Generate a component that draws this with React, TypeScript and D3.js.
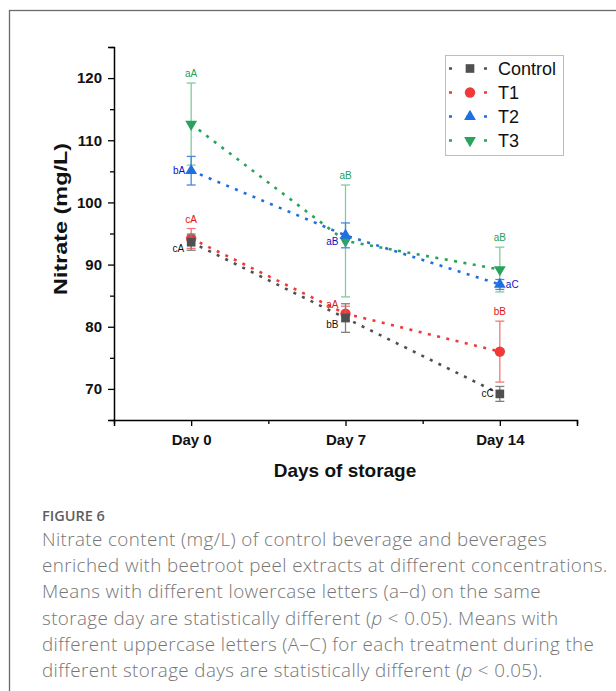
import React, { useEffect, useRef } from 'react';
import * as d3 from 'd3';

// Days and series
const days = ['Day 0', 'Day 7', 'Day 14'];

const controlMean = [93.6, 81.4, 69.2];
const controlErr = [1.3, 2.3, 1.2];
const t1Mean = [94.2, 82.1, 76.0];
const t1Err = [1.6, 1.2, 4.9];
const t2Mean = [105.1, 94.7, 86.8];
const t2Err = [2.3, 2.0, 0.8];
const t3Mean = [112.6, 93.8, 89.2];
const t3Err = [6.6, 9.0, 3.6];

// significance letters
const controlLetters = ['cA', 'bB', 'cC'];
const t1Letters = ['cA', 'aA', 'bB'];
const t2Letters = ['bA', 'aB', 'aC'];
const t3Letters = ['aA', 'aB', 'aB'];

// where each letter sits relative to its point
const controlPlace = ['lowerLeft', 'lowerLeft', 'left'];
const t1Place = ['above', 'upperLeft', 'above'];
const t2Place = ['left', 'lowerLeft', 'right'];
const t3Place = ['above', 'above', 'above'];

const yTicks = [70, 80, 90, 100, 110, 120];
const yMinor = [65, 75, 85, 95, 105, 115, 125];

const captionTitle = 'FIGURE 6';
const captionLines = [
  'Nitrate content (mg/L) of control beverage and beverages',
  'enriched with beetroot peel extracts at different concentrations.',
  'Means with different lowercase letters (a\u2013d) on the same',
  'storage day are statistically different (|p| < 0.05). Means with',
  'different uppercase letters (A\u2013C) for each treatment during the',
  'different storage days are statistically different (|p| < 0.05).',
];

type Series = {
  name: string;
  mean: number[];
  err: number[];
  letters: string[];
  place: string[];
  line: string;
  bar: string;
  label: string;
  symbol: d3.SymbolType;
  size: number;
  flip?: boolean;
};

const series: Series[] = [
  { name: 'Control', mean: controlMean, err: controlErr, letters: controlLetters, place: controlPlace,
    line: '#505050', bar: '#808080', label: '#111111', symbol: d3.symbolSquare, size: 75 },
  { name: 'T1', mean: t1Mean, err: t1Err, letters: t1Letters, place: t1Place,
    line: '#f03a3a', bar: '#f07878', label: '#e01515', symbol: d3.symbolCircle, size: 85 },
  { name: 'T2', mean: t2Mean, err: t2Err, letters: t2Letters, place: t2Place,
    line: '#1f6fe0', bar: '#4a86e0', label: '#1010c8', symbol: d3.symbolTriangle, size: 60 },
  { name: 'T3', mean: t3Mean, err: t3Err, letters: t3Letters, place: t3Place,
    line: '#28a35c', bar: '#80cc9e', label: '#22a05a', symbol: d3.symbolTriangle, size: 60, flip: true },
];

const drawOrder = [3, 2, 1, 0];

export default function App() {
  const svgRef = useRef<SVGSVGElement>(null);

  useEffect(() => {
    if (!svgRef.current) return;
    const svg = d3.select(svgRef.current);
    svg.selectAll('*').remove();

    const font = 'Arial, "Liberation Sans", sans-serif';

    // figure frame
    svg.append('rect')
      .attr('x', 9.5).attr('y', 10.5)
      .attr('width', 700).attr('height', 800)
      .attr('fill', 'none')
      .attr('stroke', '#6a6a6a')
      .attr('stroke-width', 1.3);

    const x = d3.scaleLinear().domain([-0.5, 2.5]).range([114, 577]);
    const y = d3.scaleLinear().domain([65, 125]).range([420, 47]);

    // Y axis
    const yAxis = svg.append('g')
      .attr('transform', `translate(${x(-0.5)},0)`)
      .call(d3.axisLeft(y).tickValues(yTicks).tickSize(6).tickPadding(6).tickFormat(d3.format('d')));
    svg.append('g')
      .attr('transform', `translate(${x(-0.5)},0)`)
      .call(d3.axisLeft(y).tickValues(yMinor).tickSize(4).tickFormat(() => ''))
      .select('.domain').remove();

    // X axis
    const xAxis = svg.append('g')
      .attr('transform', `translate(0,${y(65)})`)
      .call(d3.axisBottom(x).tickValues([0, 1, 2]).tickSize(6).tickPadding(8).tickFormat((d) => days[d as number]));
    svg.append('g')
      .attr('transform', `translate(0,${y(65)})`)
      .call(d3.axisBottom(x).tickValues([-0.5, 0.5, 1.5, 2.5]).tickSize(4).tickFormat(() => ''))
      .select('.domain').remove();

    svg.selectAll('.domain').attr('stroke', '#000').attr('stroke-width', 1.5);
    svg.selectAll('.tick line').attr('stroke', '#000').attr('stroke-width', 1.3);
    [yAxis, xAxis].forEach((a) =>
      a.selectAll('text')
        .attr('fill', '#111')
        .attr('font-family', font)
        .attr('font-weight', 'bold')
        .attr('font-size', 15));

    // axis titles
    svg.append('text')
      .attr('transform', `translate(67,${(143 + 295) / 2}) rotate(-90)`)
      .attr('text-anchor', 'middle')
      .attr('font-family', font)
      .attr('font-weight', 'bold')
      .attr('font-size', 18)
      .attr('textLength', 152)
      .attr('lengthAdjust', 'spacingAndGlyphs')
      .attr('fill', '#111')
      .text('Nitrate (mg/L)');

    svg.append('text')
      .attr('x', (x(-0.5) + x(2.5)) / 2 - 0.5)
      .attr('y', 477)
      .attr('text-anchor', 'middle')
      .attr('font-family', font)
      .attr('font-weight', 'bold')
      .attr('font-size', 19)
      .attr('fill', '#111')
      .text('Days of storage');

    const idx = d3.range(days.length);

    // dotted connecting lines
    const lineGen = d3.line<number>().x((i) => x(i));
    drawOrder.forEach((k) => {
      const s = series[k];
      svg.append('path')
        .attr('d', lineGen.y((i) => y(s.mean[i]))(idx))
        .attr('fill', 'none')
        .attr('stroke', s.line)
        .attr('stroke-width', 2.6)
        .attr('stroke-dasharray', '3 6.5');
    });

    // error bars and markers
    drawOrder.forEach((k) => {
      const s = series[k];
      const g = svg.append('g');
      idx.forEach((i) => {
        const cx = x(i);
        const top = y(s.mean[i] + s.err[i]);
        const bot = y(s.mean[i] - s.err[i]);
        g.append('line').attr('x1', cx).attr('x2', cx).attr('y1', top).attr('y2', bot)
          .attr('stroke', s.bar).attr('stroke-width', 1.3);
        [top, bot].forEach((yy) =>
          g.append('line').attr('x1', cx - 4.5).attr('x2', cx + 4.5).attr('y1', yy).attr('y2', yy)
            .attr('stroke', s.bar).attr('stroke-width', 1.3));
      });
      const sym = d3.symbol().type(s.symbol).size(s.size);
      g.selectAll('path.m')
        .data(idx)
        .join('path')
        .attr('class', 'm')
        .attr('d', sym() as string)
        .attr('transform', (i) => `translate(${x(i)},${y(s.mean[i])})${s.flip ? ' rotate(180)' : ''}`)
        .attr('fill', s.line);
    });

    // letters
    series.forEach((s) => {
      idx.forEach((i) => {
        const cx = x(i);
        const cy = y(s.mean[i]);
        const p = s.place[i];
        let tx = cx;
        let ty = cy + 3.5;
        let anchor = 'middle';
        if (p === 'above') { ty = y(s.mean[i] + s.err[i]) - 6; }
        else if (p === 'left') { tx = cx - 6; anchor = 'end'; }
        else if (p === 'right') { tx = cx + 6; anchor = 'start'; }
        else if (p === 'lowerLeft') { tx = cx - 7; ty = cy + 10; anchor = 'end'; }
        else if (p === 'upperLeft') { tx = cx - 7; ty = cy - 5.5; anchor = 'end'; }
        svg.append('text')
          .attr('x', tx).attr('y', ty)
          .attr('text-anchor', anchor)
          .attr('font-family', font)
          .attr('font-size', 10)
          .attr('fill', s.label)
          .text(s.letters[i]);
      });
    });

    // legend
    const lg = svg.append('g');
    lg.append('rect')
      .attr('x', 445.5).attr('y', 55.5).attr('width', 118).attr('height', 100)
      .attr('fill', '#fff').attr('stroke', '#bdbdbd').attr('stroke-width', 1);
    series.forEach((s, k) => {
      const ly = 68.5 + k * 24;
      lg.append('line')
        .attr('x1', 449).attr('x2', 491).attr('y1', ly).attr('y2', ly)
        .attr('stroke', s.line).attr('stroke-width', 2.6)
        .attr('stroke-dasharray', '3 14.5');
      lg.append('path')
        .attr('d', d3.symbol().type(s.symbol).size(s.size)() as string)
        .attr('transform', `translate(470,${ly})${s.flip ? ' rotate(180)' : ''}`)
        .attr('fill', s.line);
      lg.append('text')
        .attr('x', 498).attr('y', ly + 6.5)
        .attr('font-family', font)
        .attr('font-size', 18)
        .attr('fill', '#111')
        .text(s.name);
    });

    // caption
    svg.append('text')
      .attr('x', 42).attr('y', 521)
      .attr('font-family', '"Open Sans", sans-serif')
      .attr('font-weight', 600)
      .attr('font-size', 14.5)
      .attr('fill', '#5e5e5e')
      .text(captionTitle);

    captionLines.forEach((line, k) => {
      const t = svg.append('text')
        .attr('x', 42).attr('y', 546 + k * 26.2)
        .attr('font-family', '"Open Sans", sans-serif')
        .attr('font-weight', 300)
        .attr('font-size', 18.8)
        .attr('letter-spacing', 0.4)
        .attr('fill', '#757575');
      line.split('|').forEach((part, j) => {
        t.append('tspan')
          .attr('font-style', j % 2 === 1 ? 'italic' : 'normal')
          .text(part);
      });
    });
  }, []);

  return (
    <svg
      ref={svgRef}
      width={616}
      height={691}
      style={{ position: 'absolute', left: 0, top: 0, background: '#fff', display: 'block' }}
    />
  );
}
